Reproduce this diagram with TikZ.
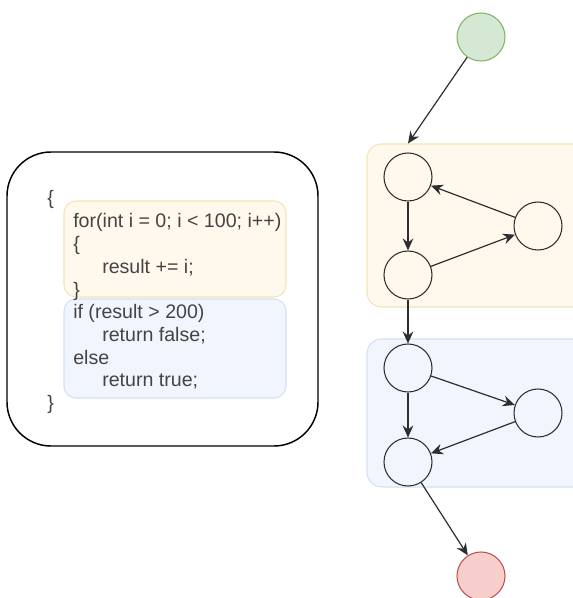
\documentclass[tikz,border=0pt]{standalone}
\usepackage{fontspec}
\setmainfont{Liberation Sans}
\usetikzlibrary{arrows.meta}

\definecolor{loopfill}{HTML}{FEF9EC}
\definecolor{loopline}{HTML}{F2E3B8}
\definecolor{condfill}{HTML}{F1F5FD}
\definecolor{condline}{HTML}{D3E0F3}
\definecolor{startfill}{HTML}{D5E8D4}
\definecolor{startline}{HTML}{82B366}
\definecolor{endfill}{HTML}{F8CECC}
\definecolor{endline}{HTML}{B85450}
\definecolor{ink}{HTML}{2E2E2E}
\definecolor{codeink}{HTML}{444444}

\tikzset{
  state/.style={circle, draw=ink, line width=0.8pt, minimum size=36pt, inner sep=0pt},
  flow/.style={draw=ink, line width=0.9pt, -{Stealth[length=9pt, width=8pt, inset=3pt]}},
  region/.style={rectangle, rounded corners=11pt, line width=0.8pt, inner sep=0pt},
  codebox/.style={rectangle, rounded corners=9pt, line width=0.8pt, inner sep=0pt},
  code/.style={anchor=base west, inner sep=0pt, text=codeink,
    font=\fontsize{14.7pt}{17pt}\selectfont},
}

\begin{document}
\begin{tikzpicture}[x=0.75pt, y=-0.75pt]
\useasboundingbox (0,0) rectangle (573,598);

% ---- source code panel ----
\node[rectangle, draw=black, line width=1.1pt, rounded corners=33pt,
      minimum width=233.25pt, minimum height=220.5pt] (panel) at (162.5,299) {};
\node[codebox, fill=loopfill, draw=loopline,
      minimum width=166.5pt, minimum height=72pt] (loopcode) at (175,249) {};
\node[codebox, fill=condfill, draw=condline,
      minimum width=166.5pt, minimum height=74.25pt] (condcode) at (175,348.5) {};

\node[code] (l1)  at (47,205)  {\{};
\node[code] (l2)  at (73,228)  {for(int i = 0; i < 100; i++)};
\node[code] (l3)  at (73,250.5){\{};
\node[code] (l4)  at (102,273) {result += i;};
\node[code] (l5)  at (73,296)  {\}};
\node[code] (l6)  at (73,318.5){if (result > 200)};
\node[code] (l7)  at (102,341) {return false;};
\node[code] (l8)  at (73,364)  {else};
\node[code] (l9)  at (102,386.5){return true;};
\node[code] (l10) at (47,409)  {\}};

% ---- control flow graph ----
\node[region, fill=loopfill, draw=loopline,
      minimum width=167.25pt, minimum height=122.25pt] (loopreg) at (478.5,225.5) {};
\node[region, fill=condfill, draw=condline,
      minimum width=167.25pt, minimum height=111pt] (condreg) at (478.5,413) {};

\node[state, fill=startfill, draw=startline] (start) at (481,37) {};
\node[state] (a) at (408,177) {};
\node[state] (c) at (538,226) {};
\node[state] (b) at (408,275) {};
\node[state] (d) at (408,368) {};
\node[state] (e) at (538,413) {};
\node[state] (f) at (408,462) {};
\node[state, fill=endfill, draw=endline] (stop) at (481,576) {};

\coordinate (entry) at (a |- loopreg.north);

\draw[flow] (start) -- (entry);
\draw[flow] (a) -- (b);
\draw[flow] (b) -- (c);
\draw[flow] (c) -- (a);
\draw[flow] (b) -- (d);
\draw[flow] (d) -- (f);
\draw[flow] (d) -- (e);
\draw[flow] (e) -- (f);
\draw[flow] (f) -- (stop);
\end{tikzpicture}
\end{document}
